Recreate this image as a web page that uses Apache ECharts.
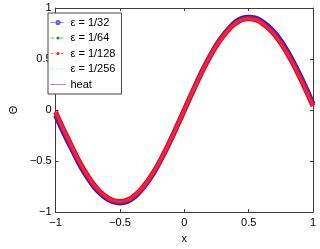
<!DOCTYPE html>
<html><head><meta charset="utf-8">
<script src="https://cdn.jsdelivr.net/npm/echarts@6/dist/echarts.min.js"></script>
<style>html,body{margin:0;padding:0;background:#fff}#c{width:320px;height:249px}</style>
</head><body><div id="c"></div>
<script>
const xs = [-1,-0.95,-0.9,-0.85,-0.8,-0.75,-0.7,-0.65,-0.6,-0.55,-0.5,-0.45,-0.4,-0.35,-0.3,-0.25,-0.2,-0.15,-0.1,-0.05,0,0.05,0.1,0.15,0.2,0.25,0.3,0.35,0.4,0.45,0.5,0.55,0.6,0.65,0.7,0.75,0.8,0.85,0.9,0.95,1];
const eps32 = [-0.05,-0.19,-0.32,-0.445,-0.565,-0.665,-0.755,-0.82,-0.87,-0.9,-0.91,-0.9,-0.865,-0.805,-0.73,-0.64,-0.53,-0.41,-0.28,-0.14,0,0.14,0.28,0.41,0.53,0.64,0.73,0.805,0.865,0.9,0.91,0.902,0.872,0.825,0.76,0.68,0.58,0.465,0.34,0.205,0.06];
const eps64 = [-0.025,-0.165,-0.295,-0.425,-0.545,-0.648,-0.738,-0.807,-0.857,-0.888,-0.897,-0.887,-0.852,-0.797,-0.722,-0.632,-0.526,-0.406,-0.276,-0.14,0,0.14,0.276,0.406,0.526,0.632,0.722,0.797,0.852,0.887,0.897,0.889,0.857,0.807,0.742,0.658,0.558,0.443,0.318,0.183,0.045];
const eps128 = [-0.02,-0.16,-0.29,-0.42,-0.54,-0.645,-0.735,-0.805,-0.855,-0.887,-0.895,-0.885,-0.85,-0.795,-0.72,-0.63,-0.525,-0.405,-0.275,-0.14,0,0.14,0.275,0.405,0.525,0.63,0.72,0.795,0.85,0.885,0.895,0.887,0.855,0.805,0.74,0.655,0.555,0.44,0.315,0.18,0.04];
const eps256 = [-0.02,-0.16,-0.29,-0.42,-0.54,-0.645,-0.735,-0.805,-0.855,-0.887,-0.895,-0.885,-0.85,-0.795,-0.72,-0.63,-0.525,-0.405,-0.275,-0.14,0,0.14,0.275,0.405,0.525,0.63,0.72,0.795,0.85,0.885,0.895,0.887,0.855,0.805,0.74,0.655,0.555,0.44,0.315,0.18,0.04];
const heat = [-0.02,-0.16,-0.29,-0.42,-0.54,-0.645,-0.735,-0.805,-0.855,-0.887,-0.895,-0.885,-0.85,-0.795,-0.72,-0.63,-0.525,-0.405,-0.275,-0.14,0,0.14,0.275,0.405,0.525,0.63,0.72,0.795,0.85,0.885,0.895,0.887,0.855,0.805,0.74,0.655,0.555,0.44,0.315,0.18,0.04];
const seriesNames = ['ε = 1/32','ε = 1/64','ε = 1/128','ε = 1/256','heat'];
const xTicks = [-1,-0.5,0,0.5,1];
const yTicks = [-1,-0.5,0,0.5,1];

const pair = ys => xs.map((x,i)=>[x,ys[i]]);
const font = 'Liberation Sans, Arial, Helvetica, sans-serif';
const fmt = v => { const s = String(v); return s.replace('-', '\u2212'); };
const axisCommon = {
  type:'value', min:-1, max:1, interval:0.5,
  axisLine:{show:true, onZero:false, lineStyle:{color:'#3c3c3c', width:1}},
  axisTick:{show:true, inside:true, length:3, lineStyle:{color:'#3c3c3c'}},
  splitLine:{show:false}
};
const chart = echarts.init(document.getElementById('c'), null, {renderer:'canvas'});
chart.setOption({
  animation:false,
  backgroundColor:'#fff',
  grid:{left:45, right:7, top:8, bottom:29, containLabel:false},
  xAxis:[
    Object.assign({}, axisCommon, {position:'bottom', name:'x', nameLocation:'middle', nameGap:19,
      nameTextStyle:{fontFamily:font, fontSize:11, color:'#000'},
      axisLabel:{fontFamily:font, fontSize:11, color:'#000', margin:5, formatter:fmt}}),
    Object.assign({}, axisCommon, {position:'top', axisLabel:{show:false}})
  ],
  yAxis:[
    Object.assign({}, axisCommon, {position:'left', name:'Θ', nameLocation:'middle', nameGap:33,
      nameTextStyle:{fontFamily:font, fontSize:11, color:'#000'},
      axisLabel:{fontFamily:font, fontSize:11, color:'#000', margin:4, formatter:fmt}}),
    Object.assign({}, axisCommon, {position:'right', axisLabel:{show:false}})
  ],
  legend:{
    orient:'vertical', left:48, top:13,
    backgroundColor:'#fff', borderColor:'#444', borderWidth:1,
    padding:[4,6,4,2], itemGap:4.5, itemWidth:15, itemHeight:4,
    textStyle:{fontFamily:font, fontSize:11, color:'#000'},
    data:[
      {name:seriesNames[0], lineStyle:{width:1, color:'#7f7fff', type:[4,2,1,2]}, itemStyle:{color:'#5a5aff'}},
      {name:seriesNames[1], lineStyle:{width:1, color:'#66cc66', type:[4,2,1,2]}, itemStyle:{color:'#339933'}},
      {name:seriesNames[2], lineStyle:{width:1, color:'#ff8080', type:[3,2]}, itemStyle:{color:'#ff2222'}},
      {name:seriesNames[3], lineStyle:{width:1, color:'#b8f5ea', type:[3,2]}, itemStyle:{color:'#b8f5ea'}},
      {name:seriesNames[4], lineStyle:{width:1, color:'#b07cf0', type:'solid'}, itemStyle:{color:'#b07cf0'}}
    ]
  },
  series:[
    {name:seriesNames[0], type:'line', data:pair(eps32), symbol:'emptyCircle', showSymbol:false, smooth:true,
      lineStyle:{color:'#1a1aff', width:5}, itemStyle:{color:'#1a1aff'}, z:2},
    {name:seriesNames[1], type:'line', data:pair(eps64), symbol:'circle', showSymbol:false, smooth:true,
      lineStyle:{color:'#00b000', width:4}, itemStyle:{color:'#00b000'}, z:3},
    {name:seriesNames[2], type:'line', data:pair(eps128), symbol:'circle', showSymbol:false, smooth:true,
      lineStyle:{color:'#ff0000', width:5}, itemStyle:{color:'#ff0000'}, z:4},
    {name:seriesNames[3], type:'line', data:pair(eps256), symbol:'line', showSymbol:false, smooth:true,
      lineStyle:{color:'#ff2020', width:3}, itemStyle:{color:'#b8f5ea'}, z:5},
    {name:seriesNames[4], type:'line', data:pair(heat), symbol:'line', showSymbol:false, smooth:true,
      lineStyle:{color:'#8a40d0', width:1}, itemStyle:{color:'#b07cf0'}, z:6}
  ]
});
</script></body></html>
